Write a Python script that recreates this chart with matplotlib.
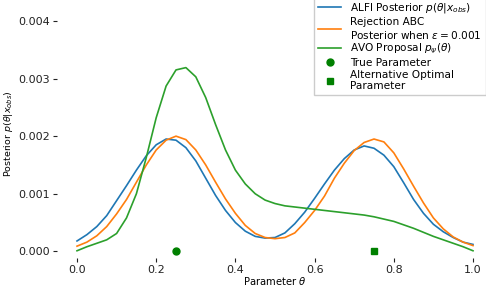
import numpy as np
import matplotlib
matplotlib.use("Agg")
import matplotlib.pyplot as plt

# parameter grid and densities
theta = np.linspace(0, 1, 41)
alfi = [0.00018, 0.00029, 0.00043, 0.00062, 0.00088, 0.00114, 0.00141, 0.00166, 0.00185, 0.00195,
        0.00193, 0.00180, 0.00157, 0.00127, 0.00097, 0.00071, 0.00050, 0.00035, 0.00026, 0.00023,
        0.00024, 0.00032, 0.00048, 0.00068, 0.00092, 0.00117, 0.00141, 0.00161, 0.00176, 0.00183,
        0.00179, 0.00167, 0.00147, 0.00119, 0.00090, 0.00066, 0.00047, 0.00034, 0.00024, 0.00016,
        0.00012]
rej = [0.00009, 0.00016, 0.00027, 0.00043, 0.00065, 0.00090, 0.00120, 0.00150, 0.00176, 0.00193,
       0.00200, 0.00194, 0.00176, 0.00150, 0.00120, 0.00091, 0.00066, 0.00045, 0.00031, 0.00024,
       0.00022, 0.00024, 0.00032, 0.00050, 0.00071, 0.00096, 0.00127, 0.00153, 0.00175, 0.00189,
       0.00195, 0.00190, 0.00171, 0.00143, 0.00113, 0.00084, 0.00058, 0.00039, 0.00025, 0.00016,
       0.00010]
avo = [0.00001, 0.00008, 0.00014, 0.00020, 0.00031, 0.00058, 0.00100, 0.00163, 0.00232, 0.00287,
       0.00315, 0.00319, 0.00303, 0.00267, 0.00220, 0.00176, 0.00141, 0.00117, 0.00100, 0.00089,
       0.00083, 0.00079, 0.00077, 0.00075, 0.00073, 0.00071, 0.00069, 0.00067, 0.00065, 0.00063,
       0.00060, 0.00056, 0.00052, 0.00046, 0.00040, 0.00033, 0.00026, 0.00020, 0.00014, 0.00008,
       0.00001]
true_param = 0.25
alt_param = 0.75

fig = plt.figure(figsize=(4.86, 2.86), dpi=100)
ax = fig.add_axes([0.1177, 0.097, 0.8963, 0.87])

ax.plot(theta, alfi, color='tab:blue', lw=1.2, label=r'ALFI Posterior $p(\theta|x_{obs})$')
ax.plot(theta, rej, color='tab:orange', lw=1.2, label='Rejection ABC\nPosterior when $\\epsilon = 0.001$')
ax.plot(theta, avo, color='tab:green', lw=1.2, label=r'AVO Proposal $p_\psi(\theta)$')
ax.plot([true_param], [0], 'o', color='green', ms=5, label='True Parameter')
ax.plot([alt_param], [0], 's', color='green', ms=5, label='Alternative Optimal\nParameter')

ax.set_xlim(-0.05, 1.05)
ax.set_ylim(-0.00012, 0.0042)
ax.set_xticks([0.0, 0.2, 0.4, 0.6, 0.8, 1.0])
ax.set_yticks([0.000, 0.001, 0.002, 0.003, 0.004])
ax.set_yticklabels(['0.000', '0.001', '0.002', '0.003', '0.004'])
ax.tick_params(labelsize=8, length=3, width=0.8, pad=2.5, colors='#222222')
ax.tick_params(axis='x', pad=1.5)
for s in ax.spines.values():
    s.set_visible(False)
ax.set_xlabel(r'Parameter $\theta$', fontsize=7.2, labelpad=0)
ax.set_ylabel(r'Posterior $p(\theta|x_{obs})$', fontsize=6.8, labelpad=2)

fig.legend(loc='upper right', bbox_to_anchor=(1.01, 1.03), fontsize=7.6,
           handlelength=2.2, handletextpad=0.8, labelspacing=0.15, borderpad=0.4,
           fancybox=False, edgecolor='#cccccc', framealpha=1.0)

fig.savefig('out.png', dpi=100)
